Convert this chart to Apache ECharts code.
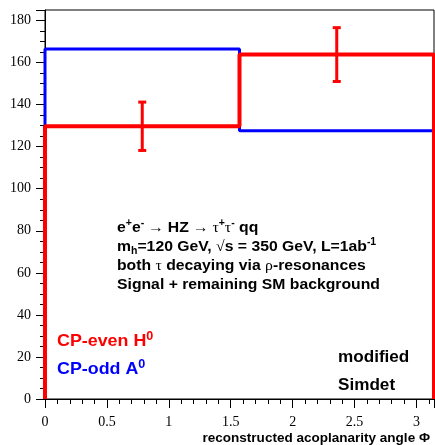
<!DOCTYPE html>
<html>
<head>
<meta charset="utf-8">
<script src="https://cdn.jsdelivr.net/npm/echarts@6/dist/echarts.min.js"></script>
<style>
  html, body { margin: 0; padding: 0; background: #fff; }
  #chart { width: 435px; height: 445px; }
</style>
</head>
<body>
<div id="chart"></div>
<script>
// histogram: two bins of the acoplanarity angle, 0..pi
const binEdges = [0, Math.PI / 2, Math.PI];
const evenCounts = [129.7, 163.8];   // CP-even H0
const oddCounts = [166.5, 127.6];    // CP-odd A0
const evenErrors = [11.5, 12.8];
const xTicks = [0, 0.5, 1, 1.5, 2, 2.5, 3];
const yTicks = [0, 20, 40, 60, 80, 100, 120, 140, 160, 180];

const RED = '#ff0000';
const BLUE = '#0000ff';
const SANS = '"Liberation Sans", Arial, sans-serif';
const SERIF = '"Liberation Serif", "Times New Roman", serif';

// outline of a histogram, dropping to zero at both ends
function stepPath(counts) {
  const pts = [[binEdges[0], 0]];
  counts.forEach((c, i) => {
    pts.push([binEdges[i], c]);
    pts.push([binEdges[i + 1], c]);
  });
  pts.push([binEdges[binEdges.length - 1], 0]);
  return pts;
}

const errData = evenCounts.map((c, i) => [(binEdges[i] + binEdges[i + 1]) / 2, c, evenErrors[i]]);

function renderErr(params, api) {
  const x = api.value(0), y = api.value(1), e = api.value(2);
  const top = api.coord([x, y + e]);
  const bot = api.coord([x, y - e]);
  const st = { stroke: RED, lineWidth: 3 };
  return {
    type: 'group',
    children: [
      { type: 'line', shape: { x1: top[0], y1: top[1], x2: bot[0], y2: bot[1] }, style: st },
      { type: 'line', shape: { x1: top[0] - 4, y1: top[1], x2: top[0] + 4, y2: top[1] }, style: st },
      { type: 'line', shape: { x1: bot[0] - 4, y1: bot[1], x2: bot[0] + 4, y2: bot[1] }, style: st }
    ]
  };
}

const boldRich = {
  n: { fontFamily: SANS, fontWeight: 'bold', fontSize: 15, fill: '#000', lineHeight: 19 },
  g: { fontFamily: SERIF, fontSize: 15, fill: '#000', lineHeight: 19 },
  sup: { fontFamily: SANS, fontWeight: 'bold', fontSize: 10, fill: '#000', verticalAlign: 'top', lineHeight: 19 },
  sub: { fontFamily: SANS, fontWeight: 'bold', fontSize: 10, fill: '#000', verticalAlign: 'bottom', lineHeight: 15 }
};

const notes = [
  '{n|e}{sup|+}{n|e}{sup|-}{g| → }{n|HZ}{g| → τ}{sup|+}{g|τ}{sup|-}{n| qq}',
  '{n|m}{sub|h}{n|=120 GeV, }{g|√}{n|s = 350 GeV, L=1ab}{sup|-1}',
  '{n|both }{g|τ}{n| decaying via }{g|ρ}{n|-resonances}',
  '{n|Signal + remaining SM background}'
];
const noteY = [228, 247, 266, 285];

function legendRich(color) {
  return {
    n: { fontFamily: SANS, fontWeight: 'bold', fontSize: 17, fill: color, lineHeight: 21 },
    sup: { fontFamily: SANS, fontWeight: 'bold', fontSize: 12, fill: color, verticalAlign: 'top', lineHeight: 21 }
  };
}

const chart = echarts.init(document.getElementById('chart'));

const graphics = notes.map((t, i) => ({
  type: 'text', x: 117, y: noteY[i], scaleX: 1.05,
  style: { text: t, rich: boldRich, verticalAlign: 'middle' }
}));
graphics.push(
  { type: 'text', x: 57, y: 341, scaleX: 1.05, style: { text: '{n|CP-even H}{sup|0}', rich: legendRich(RED), fill: RED, verticalAlign: 'middle' } },
  { type: 'text', x: 57, y: 369, scaleX: 1.05, style: { text: '{n|CP-odd A}{sup|0}', rich: legendRich(BLUE), fill: BLUE, verticalAlign: 'middle' } },
  { type: 'text', x: 338, y: 358, scaleX: 1.07, style: { text: 'modified', font: 'bold 16px ' + SANS, fill: '#000', verticalAlign: 'middle' } },
  { type: 'text', x: 338, y: 386, scaleX: 1.07, style: { text: 'Simdet', font: 'bold 16px ' + SANS, fill: '#000', verticalAlign: 'middle' } },
  { type: 'text', x: 430, y: 438, scaleX: 1.04, style: { text: 'reconstructed acoplanarity angle Φ', font: 'bold 13px ' + SANS, fill: '#000', align: 'right', verticalAlign: 'middle' } }
);

chart.setOption({
  animation: false,
  backgroundColor: '#fff',
  grid: { left: 45, right: 1, top: 10, bottom: 46, show: true, borderColor: '#000', borderWidth: 1 },
  xAxis: {
    type: 'value', min: 0, max: Math.PI, interval: 0.5,
    axisLine: { lineStyle: { color: '#000', width: 1 } },
    axisTick: { length: 9, lineStyle: { color: '#000' } },
    minorTick: { show: true, splitNumber: 5, length: 5, lineStyle: { color: '#000' } },
    splitLine: { show: false },
    axisLabel: {
      margin: 16, color: '#000', fontFamily: SERIF, fontSize: 14,
      showMaxLabel: false,
      formatter: v => xTicks.includes(+v.toFixed(2)) ? String(+v.toFixed(2)) : ''
    }
  },
  yAxis: {
    type: 'value', min: 0, max: 185, interval: 20,
    axisLine: { show: true, lineStyle: { color: '#000', width: 1 } },
    axisTick: { show: true, length: 9, lineStyle: { color: '#000' } },
    minorTick: { show: true, splitNumber: 4, length: 5, lineStyle: { color: '#000' } },
    splitLine: { show: false },
    axisLabel: {
      margin: 14, color: '#000', fontFamily: SERIF, fontSize: 14,
      showMaxLabel: false,
      formatter: v => yTicks.includes(v) ? String(v) : ''
    }
  },
  series: [
    {
      type: 'line', data: stepPath(oddCounts), symbol: 'none', clip: false,
      lineStyle: { color: BLUE, width: 3 }, z: 2
    },
    {
      type: 'line', data: stepPath(evenCounts), symbol: 'none', clip: false,
      lineStyle: { color: RED, width: 4 }, z: 3
    },
    {
      type: 'custom', data: errData, renderItem: renderErr, z: 4
    }
  ],
  graphic: graphics
});
</script>
</body>
</html>
